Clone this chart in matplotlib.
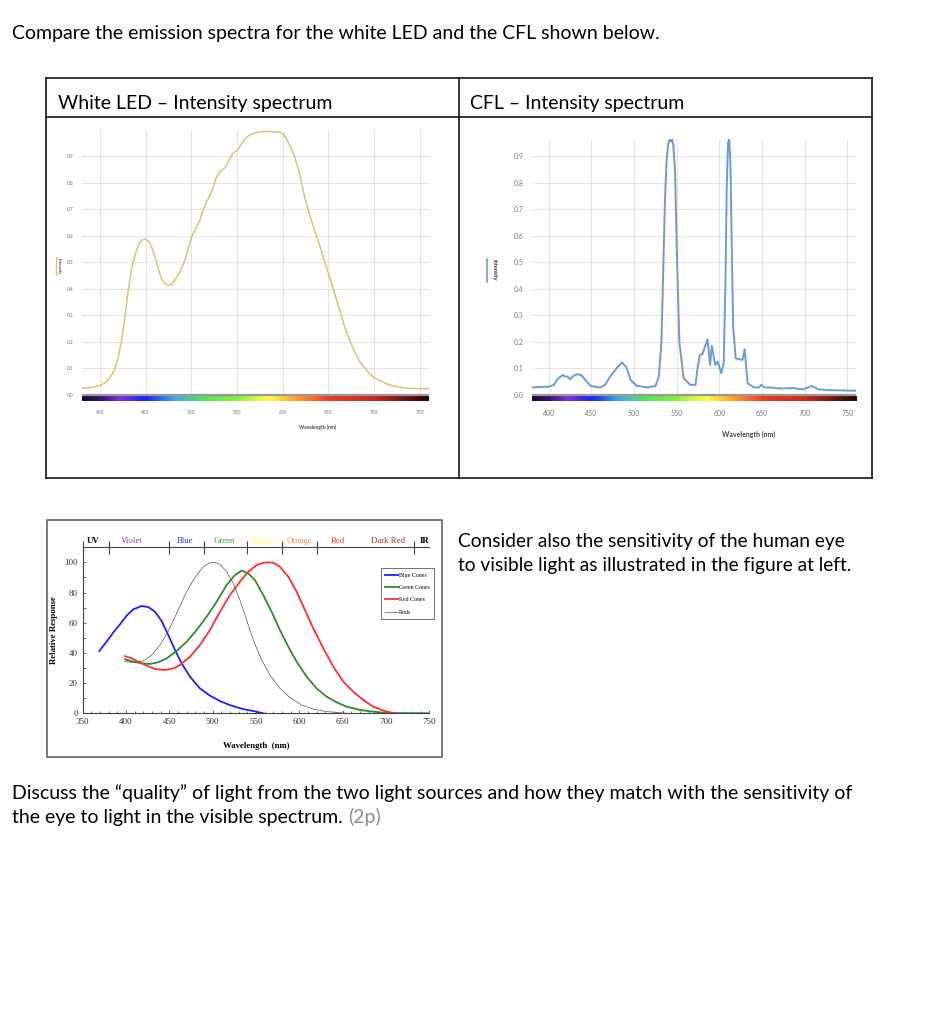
import numpy as np
import matplotlib
matplotlib.use("Agg")
import matplotlib.pyplot as plt
from matplotlib.colors import LinearSegmentedColormap, Normalize
from matplotlib.lines import Line2D
from matplotlib.patches import Rectangle
from matplotlib.ticker import MultipleLocator

# white LED spectrum (nm, relative intensity)
led_nm = [380, 389.1, 400, 407.3, 412.8, 416.4, 420.1, 423.7, 427.3, 431.0, 434.6,
          438.3, 441.9, 445.6, 449.2, 452.9, 456.5, 460.2, 463.8, 467.4, 471.1,
          474.7, 478.4, 482.0, 487.5, 493.0, 496.6, 500.3, 505.7, 509.4, 513.0,
          516.7, 522.1, 527.6, 531.2, 536.7, 542.2, 545.8, 551.3, 554.9, 560.4,
          565.9, 573.2, 580.5, 589.6, 596.9, 601.2, 604.9, 609.6, 613.3, 618.7,
          624.2, 629.7, 635.1, 640.6, 646.1, 651.5, 657.0, 662.5, 668.0, 673.4,
          678.9, 684.4, 691.7, 698.9, 706.2, 717.2, 728.1, 739.0, 760]
led_val = [0.025, 0.028, 0.035, 0.050, 0.075, 0.100, 0.144, 0.207, 0.295, 0.395,
           0.477, 0.527, 0.565, 0.584, 0.589, 0.581, 0.559, 0.521, 0.477, 0.439,
           0.420, 0.413, 0.418, 0.433, 0.464, 0.508, 0.552, 0.596, 0.634, 0.659,
           0.697, 0.728, 0.766, 0.822, 0.841, 0.856, 0.891, 0.913, 0.926, 0.948,
           0.973, 0.985, 0.992, 0.995, 0.993, 0.992, 0.983, 0.963, 0.929, 0.897,
           0.835, 0.747, 0.678, 0.621, 0.565, 0.502, 0.446, 0.383, 0.320, 0.257,
           0.207, 0.163, 0.126, 0.094, 0.069, 0.054, 0.038, 0.029, 0.025, 0.023]

# CFL spectrum
cfl_nm = [380, 388, 400, 406, 410, 416, 420, 422, 425, 429, 433, 438, 443, 449,
          460, 466, 472, 480, 486, 491, 496, 503, 515, 525, 529, 532, 534, 536,
          538, 540, 541.5, 543, 544.5, 546, 548, 550, 553, 558, 566, 572, 574, 577,
          580, 586, 589, 591, 595, 598, 602, 605, 607, 608.5, 610, 611.5, 613, 614.5,
          616, 619, 624, 627, 629.5, 633, 640, 646, 649, 653, 661, 671, 686, 698,
          708, 716, 729, 760]
cfl_val = [0.028, 0.03, 0.031, 0.038, 0.059, 0.075, 0.069, 0.069, 0.059, 0.072,
           0.078, 0.075, 0.056, 0.034, 0.028, 0.038, 0.069, 0.103, 0.122, 0.104,
           0.056, 0.035, 0.028, 0.034, 0.069, 0.2, 0.45, 0.72, 0.88, 0.945, 0.962,
           0.955, 0.962, 0.94, 0.84, 0.55, 0.2, 0.063, 0.038, 0.038, 0.094, 0.15,
           0.154, 0.21, 0.113, 0.185, 0.113, 0.126, 0.082, 0.119, 0.42, 0.78, 0.95,
           0.962, 0.85, 0.55, 0.26, 0.138, 0.134, 0.132, 0.172, 0.044, 0.029, 0.028,
           0.038, 0.028, 0.028, 0.024, 0.026, 0.021, 0.034, 0.021, 0.018, 0.016]

# eye sensitivity curves (relative response, %)
blue_nm = [369.2, 377.7, 385.3, 393.0, 400.7, 408.4, 418.0, 425.7, 433.4, 441.1,
           448.8, 456.5, 464.2, 473.8, 485.3, 496.9, 508.4, 521.9, 535.3, 546.9, 558.4]
blue_val = [41.3, 47.5, 53.6, 58.9, 64.7, 68.9, 71.1, 70.4, 67.3, 61.1, 51.9, 41.9,
            33.1, 24.3, 16.5, 11.7, 8.1, 5.0, 2.8, 1.5, 0.0]
green_nm = [398.8, 408.4, 418.0, 427.7, 437.3, 446.9, 458.4, 470.0, 481.5, 493.0,
            504.6, 516.1, 525.7, 533.4, 541.1, 548.8, 558.4, 568.0, 577.6, 587.3,
            596.9, 608.4, 620.0, 631.5, 643.0, 654.6, 670.0, 685.3, 700.7, 750]
green_val = [35.7, 34.2, 33.1, 32.7, 33.8, 36.4, 41.3, 47.4, 55.2, 64.0, 73.9, 85.0,
             91.6, 94.5, 92.7, 88.3, 78.3, 67.3, 55.2, 44.1, 34.2, 24.3, 16.5, 11.0,
             7.3, 4.4, 2.2, 1.1, 0.2, 0.0]
red_nm = [398.8, 406.5, 414.2, 423.8, 433.4, 445.0, 454.6, 462.3, 473.8, 485.3,
          496.9, 508.4, 519.9, 531.5, 541.1, 550.7, 558.4, 564.2, 570.0, 577.6,
          587.3, 596.9, 606.5, 616.1, 627.7, 639.2, 650.7, 662.3, 673.8, 685.3,
          694.9, 704.5, 712]
red_val = [37.9, 36.4, 34.2, 31.6, 29.3, 28.7, 29.8, 32.0, 37.5, 45.2, 55.2, 67.3,
           78.3, 87.2, 93.8, 98.2, 99.8, 100.0, 99.7, 97.1, 90.5, 80.5, 68.4, 56.3,
           43.0, 30.9, 21.0, 14.3, 8.8, 4.4, 2.2, 0.6, 0.0]
rod_nm = [398.8, 406.5, 414.2, 421.9, 429.6, 439.2, 448.8, 458.4, 468.0, 477.6,
          487.3, 494.9, 500.7, 508.4, 516.1, 523.8, 531.5, 539.2, 546.9, 556.5,
          566.1, 577.6, 589.2, 602.6, 616.1, 631.5, 646.9, 655]
rod_val = [34.2, 33.8, 33.8, 35.3, 38.6, 45.2, 54.5, 66.2, 78.3, 88.3, 96.0, 99.3,
           100.2, 98.7, 93.8, 86.1, 75.0, 61.8, 48.5, 35.3, 25.4, 16.5, 10.4, 5.5,
           2.8, 1.1, 0.4, 0.0]

bands = ["UV", "Violet", "Blue", "Green", "Yellow", "Orange", "Red", "Dark Red", "IR"]
band_pos = [362, 407, 468, 514, 558, 600, 645, 702, 744]
band_colors = ["black", "#9933aa", "#3333ff", "#339933", "#ffff33", "#ff8844",
               "#ff3333", "#993333", "black"]
band_edges = [350, 380, 450, 490, 540, 580, 620, 732]

# rainbow strip under the spectra
strip_nm = [380, 400, 420, 450, 480, 510, 545, 585, 615, 650, 700, 740, 760]
strip_col = ["#1a0a35", "#3a1470", "#8030e0", "#1028f0", "#40a8e8", "#50e060",
             "#80f040", "#ffff40", "#ffa030", "#f03a25", "#c82a20", "#601010", "#2a0000"]

W, H = 941, 1024
fig = plt.figure(figsize=(W / 100, H / 100), dpi=100)
plt.rcParams['font.family'] = ['Lato', 'DejaVu Sans']


def box(l, t, r, b):
    return [l / W, 1 - b / H, (r - l) / W, (b - t) / H]


def fx(x):
    return x / W


def fy(y):
    return 1 - y / H


FS = 14
# texts
fig.text(fx(12), fy(39), "Compare the emission spectra for the white LED and the CFL shown below.",
         fontsize=FS, va="baseline")
fig.text(fx(58), fy(109.5), "White LED \u2013 Intensity spectrum", fontsize=FS, va="baseline")
fig.text(fx(470), fy(109.5), "CFL \u2013 Intensity spectrum", fontsize=FS, va="baseline")
fig.text(fx(458), fy(546.5), "Consider also the sensitivity of the human eye", fontsize=13.8, va="baseline")
fig.text(fx(458), fy(571.5), "to visible light as illustrated in the figure at left.", fontsize=13.8, va="baseline")
fig.text(fx(12), fy(799.5), "Discuss the \u201cquality\u201d of light from the two light sources and how they match with the sensitivity of",
         fontsize=FS, va="baseline")
t = fig.text(fx(12), fy(823), "the eye to light in the visible spectrum. ", fontsize=FS, va="baseline")
fig.canvas.draw()
bb = t.get_window_extent()
fig.text(bb.x1 / W, fy(823), "(2p)", fontsize=FS, va="baseline", color="#8c8c8c")

# table frame
for (x0, y0, x1, y1) in [(46, 78, 872, 78), (46, 117, 872, 117), (46, 478, 872, 478),
                         (46, 78, 46, 478), (872, 78, 872, 478), (459, 78, 459, 478)]:
    fig.add_artist(Line2D([fx(x0), fx(x1)], [fy(y0), fy(y1)], color="black", lw=1.1))

strip_cmap = LinearSegmentedColormap.from_list(
    "strip", [((n - 380) / 380, c) for n, c in zip(strip_nm, strip_col)])


def spectrum_axes(ax, nm, val, color, lw, top, fs, lab_fs):
    ax.plot(nm, val, color=color, lw=lw, zorder=3, solid_joinstyle="round")
    ax.set_xlim(380, 760)
    ax.set_ylim(-0.025, top)
    ax.set_xticks(np.arange(400, 751, 50))
    ax.set_yticks(np.arange(0, 0.91, 0.1))
    ax.set_yticklabels(["%.1f" % v for v in np.arange(0, 0.91, 0.1)])
    ax.grid(True, color="#e4e4e4", lw=0.8)
    ax.set_axisbelow(True)
    for s in ax.spines.values():
        s.set_visible(False)
    ax.tick_params(length=0, labelsize=fs, labelcolor="#777777", pad=6)
    grad = np.linspace(380, 760, 600).reshape(1, -1)
    ax.imshow(grad, extent=[380, 760, -0.022, -0.006], aspect="auto", cmap=strip_cmap,
              norm=Normalize(380, 760), zorder=4)
    ax.axhline(0, color="#999999", lw=1.6, zorder=5)
    ax.set_xlabel("Wavelength (nm)", fontsize=lab_fs, fontweight="bold", color="#444444")


ax1 = fig.add_axes(box(81.7, 130, 428.7, 401.6))
spectrum_axes(ax1, led_nm, led_val, "#d6c66e", 1.1, 1.0, 3.5, 3.5)
ax1.xaxis.set_label_coords(0.68, -0.085)
fig.add_artist(Line2D([fx(56), fx(56)], [fy(257), fy(275)], color="#d6c66e", lw=1.0))
fig.text(fx(59), fy(266), "Intensity", fontsize=3, rotation=-90, ha="center", va="center",
         color="#444444", fontweight="bold")

ax2 = fig.add_axes(box(531.7, 138.7, 856, 401.6))
spectrum_axes(ax2, cfl_nm, cfl_val, "#6b9bd1", 1.4, 0.965, 5, 5)
ax2.xaxis.set_label_coords(0.67, -0.11)
fig.add_artist(Line2D([fx(487.5), fx(487.5)], [fy(259), fy(282)], color="#6b9bd1", lw=1.2))
fig.text(fx(493.5), fy(270), "Intensity", fontsize=4, rotation=-90, ha="center", va="center",
         color="#333333", fontweight="bold")

# eye sensitivity figure
fig.add_artist(Rectangle((fx(47), fy(757)), (442 - 47) / W, (757 - 520) / H, fill=False,
                         edgecolor="#555555", lw=1.1))
ax3 = fig.add_axes(box(82.7, 547.3, 429.3, 713.3))
serif = ["Liberation Serif", "DejaVu Serif"]
ax3.plot(blue_nm, blue_val, color="#1f1fff", lw=1.3, label="Blue Cones")
ax3.plot(green_nm, green_val, color="#2e8b2e", lw=1.3, label="Green Cones")
ax3.plot(red_nm, red_val, color="#ff2f2f", lw=1.3, label="Red Cones")
ax3.plot(rod_nm, rod_val, color="#555555", lw=0.5, label="Rods")
ax3.set_xlim(350, 750)
ax3.set_ylim(0, 110)
ax3.set_xticks(np.arange(350, 751, 50))
ax3.set_yticks(np.arange(0, 101, 20))
ax3.xaxis.set_minor_locator(MultipleLocator(10))
ax3.yaxis.set_minor_locator(MultipleLocator(10))
ax3.tick_params(which="both", direction="in", length=2.5, width=0.6, color="#555555",
                labelsize=6.5, labelcolor="#333333")
ax3.tick_params(which="minor", length=1.8)
for lab in ax3.get_xticklabels() + ax3.get_yticklabels():
    lab.set_family(serif)
ax3.spines["right"].set_visible(False)
for s in ["left", "bottom", "top"]:
    ax3.spines[s].set_color("#444444")
    ax3.spines[s].set_linewidth(0.8)
ax3.vlines(band_edges, 105.5, 114.5, color="#444444", lw=0.8, clip_on=False)
for name, pos, c in zip(bands, band_pos, band_colors):
    ax3.text(pos, 114.5, name, ha="center", va="center", fontsize=6.3, color=c,
             family=serif, fontweight="bold" if name in ("UV", "IR") else "normal")
ax3.set_xlabel("Wavelength  (nm)", fontsize=6.3, fontweight="bold", family=serif)
ax3.xaxis.set_label_coords(0.5, -0.17)
ax3.set_ylabel("Relative Response", fontsize=6.3, fontweight="bold", family=serif)
ax3.yaxis.set_label_coords(-0.071, 0.5)
leg = ax3.legend(loc="upper right", bbox_to_anchor=(1.022, 0.89),
                 prop={"family": serif, "size": 4.2}, frameon=True, fancybox=False,
                 edgecolor="#333333", handlelength=2.2, borderpad=0.7, labelspacing=1.25,
                 handletextpad=0.2)
leg.get_frame().set_linewidth(0.6)

fig.savefig("out.png", dpi=100)
